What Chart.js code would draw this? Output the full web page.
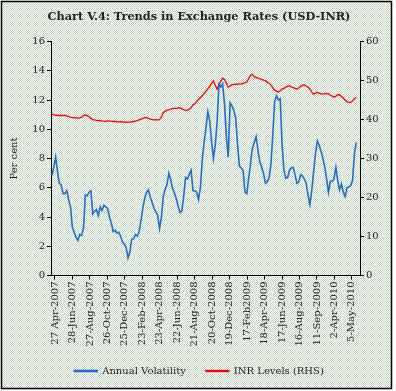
<!DOCTYPE html>
<html>
<head>
<meta charset="utf-8">
<script src="https://cdn.jsdelivr.net/npm/chart.js@4.4.1/dist/chart.umd.min.js"></script>
<style>
body { margin: 0; background: #fff; }
</style>
</head>
<body>
<canvas id="chart_fx" width="396" height="391"></canvas>
<script>
// dates printed under the axis, as in the source (first one sits at obs ~1.65, then every ~9.4 obs)
var tickLabels = ['27 Apr-2007', '28-Jun-2007', '27-Aug-2007', '26-Oct-2007', '25-Dec-2007',
    '23-Feb-2008', '23-Apr-2008', '22-Jun-2008', '21-Aug-2008', '20-Oct-2008', '19-Dec-2008',
    '17-Feb2009', '18-Apr-2009', '17-Jun-2009', '16-Aug-2009', '11-Sep-2009', '2-Apr-2010', '5-May-2010'];
var firstTick = 1.65;
var tickStep = 9.41;

// annual volatility, per cent (left axis)
var volatility = [6.85, 7.4, 8.1, 7.1, 6.3, 6.2, 5.6, 5.6, 5.8, 5.2,
    4.7, 3.3, 2.95, 2.6, 2.4, 2.8, 2.75, 3.2, 5.5, 5.45,
    5.7, 5.8, 4.2, 4.4, 4.5, 4.1, 4.7, 4.45, 4.8, 4.7,
    4.6, 4.0, 3.6, 3.0, 3.1, 2.9, 2.95, 2.7, 2.3, 2.15,
    1.9, 1.2, 1.6, 2.5, 2.5, 2.8, 2.7, 3.0, 3.8, 4.6,
    5.3, 5.7, 5.85, 5.35, 5.0, 4.6, 4.35, 4.1, 3.2, 4.0,
    5.4, 5.9, 6.2, 7.0, 6.55, 5.95, 5.65, 5.25, 4.75, 4.3,
    4.4, 5.4, 6.7, 6.6, 6.9, 7.2, 5.8, 5.8, 5.7, 5.2,
    6.0, 7.9, 9.1, 10.1, 11.2, 10.6, 9.2, 8.0, 8.9, 10.5,
    13.1, 12.9, 13.1, 11.7, 9.5, 8.1, 11.8, 11.6, 11.3, 10.8,
    9.0, 7.5, 7.35, 7.2, 5.7, 5.6, 6.65, 7.6, 8.7, 9.1,
    9.5, 8.6, 7.8, 7.4, 7.0, 6.3, 6.4, 6.7, 7.6, 9.6,
    11.9, 12.3, 12.0, 12.1, 9.0, 7.2, 6.65, 6.7, 7.2, 7.35,
    7.4, 6.9, 6.3, 6.4, 6.9, 6.8, 6.6, 6.3, 5.5, 4.85,
    5.8, 7.1, 8.3, 9.2, 8.9, 8.5, 8.0, 7.45, 6.6, 5.7,
    6.45, 6.45, 6.6, 7.4, 6.5, 5.85, 6.25, 5.7, 5.4, 6.0,
    6.05, 6.15, 6.5, 8.3, 9.1];

// INR per USD (right axis)
var inrLevels = [41.4, 41.2, 41.1, 41.1, 41.0, 41.1, 41.0, 41.1, 40.9, 40.8,
    40.6, 40.5, 40.5, 40.4, 40.3, 40.4, 40.6, 41.0, 41.2, 41.0,
    40.7, 40.3, 40.0, 39.9, 39.8, 39.7, 39.8, 39.6, 39.6, 39.5,
    39.7, 39.6, 39.6, 39.5, 39.6, 39.4, 39.4, 39.5, 39.4, 39.3,
    39.4, 39.3, 39.4, 39.4, 39.5, 39.6, 39.7, 39.9, 40.1, 40.3,
    40.5, 40.5, 40.3, 40.1, 40.0, 39.9, 40.0, 39.9, 40.0, 40.6,
    41.8, 42.1, 42.4, 42.5, 42.7, 42.8, 42.9, 42.8, 43.0, 43.0,
    42.8, 42.5, 42.3, 42.5, 42.6, 43.0, 43.8, 44.0, 44.6, 45.2,
    45.6, 46.1, 46.7, 47.3, 47.9, 48.5, 49.2, 49.9, 48.8, 47.8,
    49.0, 49.8, 50.6, 50.3, 49.3, 48.3, 48.6, 48.9, 49.0, 49.1,
    49.0, 49.2, 49.1, 49.3, 49.4, 49.6, 50.5, 51.3, 51.6, 51.0,
    50.8, 50.6, 50.4, 50.3, 50.1, 50.0, 49.6, 49.3, 48.9, 48.2,
    47.5, 47.3, 47.0, 47.4, 47.8, 48.0, 48.3, 48.5, 48.6, 48.4,
    48.2, 48.0, 47.8, 48.1, 48.5, 48.8, 48.9, 48.6, 48.3, 47.8,
    47.1, 46.5, 46.8, 47.0, 46.8, 46.6, 46.5, 46.6, 46.7, 46.6,
    46.3, 46.0, 45.7, 46.0, 46.4, 46.3, 45.9, 45.5, 45.0, 44.5,
    44.4, 44.4, 44.8, 45.4, 45.7];

function toPoints(arr) {
    return arr.map(function (v, i) { return {x: i, y: v}; });
}

var serif = "'DejaVu Serif', 'Liberation Serif', serif";

// dotted greenish paper behind the chart, with the black frame
var tile = document.createElement('canvas');
tile.width = 2; tile.height = 2;
var tctx = tile.getContext('2d');
tctx.fillStyle = '#ffffff'; tctx.fillRect(0, 0, 2, 2);
tctx.fillStyle = '#c0d1bc'; tctx.fillRect(0, 0, 1, 1); tctx.fillRect(1, 1, 1, 1);

var paper = {
    id: 'paper',
    beforeDraw: function (chart) {
        var c = chart.ctx;
        c.save();
        c.fillStyle = '#fff';
        c.fillRect(0, 0, chart.width, chart.height);
        c.fillStyle = c.createPattern(tile, 'repeat');
        c.fillRect(1, 1, 391, 388);
        c.strokeStyle = '#000';
        c.lineWidth = 1.5;
        c.strokeRect(1.5, 1.5, 390, 387);
        c.restore();
    }
};

var ctx = document.getElementById('chart_fx').getContext('2d');
var chart = new Chart(ctx, {
    type: 'line',
    data: {
        datasets: [
            {label: 'Annual Volatility', data: toPoints(volatility), yAxisID: 'y',
             borderColor: '#1f6fd0', backgroundColor: '#1f6fd0', borderWidth: 1.6,
             pointRadius: 0, tension: 0},
            {label: 'INR Levels (RHS)', data: toPoints(inrLevels), yAxisID: 'y1',
             borderColor: '#ff0000', backgroundColor: '#ff0000', borderWidth: 1.3,
             pointRadius: 0, tension: 0}
        ]
    },
    options: {
        responsive: false,
        animation: false,
        layout: {padding: {left: 6, right: 4, top: 0, bottom: 5}},
        plugins: {
            title: {display: true, text: 'Chart V.4: Trends in Exchange Rates (USD-INR)',
                    color: '#222', font: {family: serif, size: 11.3, weight: 'bold'},
                    padding: {top: 10, bottom: 18}},
            legend: {position: 'bottom',
                     labels: {boxWidth: 23, boxHeight: 1, color: '#222',
                              font: {family: serif, size: 10}, padding: 20}},
            tooltip: {enabled: false}
        },
        scales: {
            x: {
                type: 'linear', min: -0.5, max: 166,
                grid: {display: true, drawOnChartArea: false, tickLength: 4, color: '#000'},
                border: {color: '#000'},
                afterBuildTicks: function (s) {
                    s.ticks = tickLabels.map(function (t, k) { return {value: firstTick + tickStep * k}; });
                },
                ticks: {autoSkip: false, maxRotation: 90, minRotation: 90, color: '#222',
                        font: {family: serif, size: 10}, padding: 2,
                        callback: function (v, i) { return tickLabels[i]; }},
                afterFit: function (s) { s.height = 70.5; }
            },
            y: {
                position: 'left', min: 0, max: 16,
                grid: {display: true, drawOnChartArea: false, tickLength: 4, color: '#000'},
                border: {color: '#000'},
                ticks: {stepSize: 2, color: '#222', font: {family: serif, size: 10}, padding: 2},
                title: {display: true, text: 'Per cent', color: '#222',
                        font: {family: serif, size: 10}, padding: 2},
                afterFit: function (s) { s.width = 45; }
            },
            y1: {
                position: 'right', min: 0, max: 60,
                grid: {display: true, drawOnChartArea: false, tickLength: 4, color: '#000'},
                border: {color: '#000'},
                ticks: {stepSize: 10, color: '#222', font: {family: serif, size: 10}, padding: 2},
                afterFit: function (s) { s.width = 32; }
            }
        }
    },
    plugins: [paper]
});
</script>
</body>
</html>
